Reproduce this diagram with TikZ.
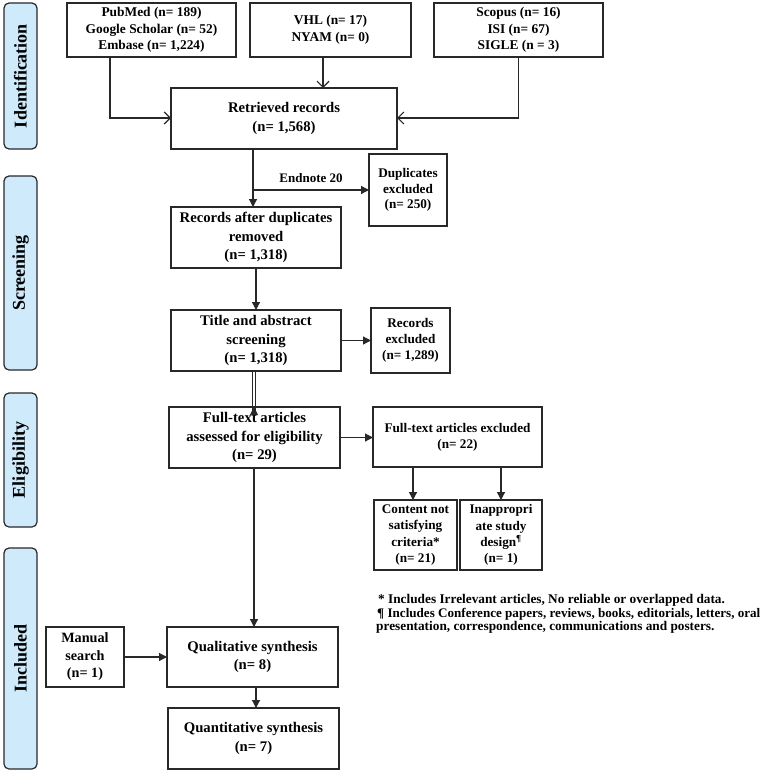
\documentclass[tikz,border=0pt]{standalone}
\usepackage{fontspec}
\setmainfont{Liberation Serif}
\usetikzlibrary{arrows.meta}
\definecolor{pillblue}{RGB}{206,234,251}
\definecolor{edge}{RGB}{40,40,40}
\tikzset{
  box/.style={draw=edge, line width=1.4pt, fill=white, inner sep=0pt, outer sep=0pt, align=center, font=\bfseries\fontsize{14.7}{18.3}\selectfont},
  srcbox/.style={box, font=\bfseries\fontsize{13.4}{16.7}\selectfont},
  sidebox/.style={box, font=\bfseries\fontsize{13.2}{15.8}\selectfont},
  pill/.style={draw=edge, line width=1.2pt, fill=pillblue, rounded corners=5pt, inner sep=0pt, outer sep=0pt, minimum width=33pt},
  pilltext/.style={font=\bfseries\fontsize{18}{20}\selectfont, rotate=90},
  openarr/.style={line width=1.2pt, draw=edge, -{Straight Barb[length=6pt,width=12pt,line width=1.2pt]}},
  fillarr/.style={line width=1.2pt, draw=edge, -{Triangle[length=8pt,width=8pt]}},
  note/.style={font=\bfseries\fontsize{13.3}{14}\selectfont, anchor=west, inner sep=0pt}
}
\begin{document}
\begin{tikzpicture}[x=1pt,y=-1pt]
\useasboundingbox (0,0) rectangle (767,773);
% phase labels
\node[pill, minimum height=146pt] (pid) at (20.5,76) {};
\node[pilltext] (tid) at (pid.center) {Identification};
\node[pill, minimum height=194pt] (psc) at (20.5,273) {};
\node[pilltext] (tsc) at (psc.center) {Screening};
\node[pill, minimum height=134pt] (pel) at (20.5,460) {};
\node[pilltext] (tel) at (pel.center) {Eligibility};
\node[pill, minimum height=221pt] (pin) at (20.5,658.5) {};
\node[pilltext] (tin) at (pin.center) {Included};
% boxes
\node[srcbox, minimum width=169pt, minimum height=54pt] (pub) at (151.5,30) {PubMed (n= 189)\\Google Scholar (n= 52)\\Embase (n= 1,224)};
\node[srcbox, minimum width=161pt, minimum height=54pt] (vhl) at (330.5,30) {VHL (n= 17)\\NYAM (n= 0)};
\node[srcbox, minimum width=169pt, minimum height=54pt] (sco) at (518.5,30) {Scopus (n= 16)\\ISI (n= 67)\\SIGLE (n = 3)};
\node[box, minimum width=226pt, minimum height=61pt] (ret) at (284,118.5) {Retrieved records\\(n= 1,568)};
\node[sidebox, minimum width=78pt, minimum height=72pt] (dup) at (408,190) {Duplicates\\excluded\\(n= 250)};
\node[box, minimum width=170pt, minimum height=61pt] (rad) at (256,237.5) {Records after duplicates\\removed\\(n= 1,318)};
\node[box, minimum width=170pt, minimum height=61pt] (tas) at (256,340.5) {Title and abstract\\screening\\(n= 1,318)};
\node[sidebox, minimum width=79pt, minimum height=65pt] (rex) at (410.5,340.5) {Records\\excluded\\(n= 1,289)};
\node[box, minimum width=171pt, minimum height=61pt] (fta) at (254.5,437.5) {Full-text articles\\assessed for eligibility\\(n= 29)};
\node[sidebox, minimum width=169pt, minimum height=60pt] (fte) at (457.5,437) {Full-text articles excluded\\(n= 22)};
\node[sidebox, minimum width=83pt, minimum height=70pt, font=\bfseries\fontsize{13.2}{16.2}\selectfont] (cns) at (415.5,535) {Content not\\satisfying\\criteria*\\(n= 21)};
\node[sidebox, minimum width=82pt, minimum height=70pt, font=\bfseries\fontsize{13.2}{16.2}\selectfont] (isd) at (501,535) {Inappropri\\ate study\\design\textsuperscript{¶}\\(n= 1)};
\node[box, minimum width=171pt, minimum height=60pt] (qual) at (252.5,657) {Qualitative synthesis\\(n= 8)};
\node[box, minimum width=78pt, minimum height=60pt, font=\bfseries\fontsize{14.2}{17.5}\selectfont] (man) at (85,657) {Manual\\search\\(n= 1)};
\node[box, minimum width=171pt, minimum height=61pt] (quan) at (253.5,738.5) {Quantitative synthesis\\(n= 7)};
% footnotes
\node[note] (n1) at (378,600) {* Includes Irrelevant articles, No reliable or overlapped data.};
\node[note, font=\bfseries\fontsize{13.1}{14}\selectfont] (n2) at (377,614) {¶ Includes Conference papers, reviews, books, editorials, letters, oral};
\node[note] (n3) at (376,627.5) {presentation, correspondence, communications and posters.};
% connectors
\coordinate (pubk) at (110,118);
\draw[openarr] (pub.south -| pubk) -- (pubk) -- (ret.west |- pubk);
\coordinate (scok) at (518.5,118);
\draw[openarr] (sco.south) -- (scok) -- (ret.east |- scok);
\coordinate (vhlx) at (323,0);
\draw[openarr] (vhl.south -| vhlx) -- (ret.north -| vhlx);
\coordinate (retx) at (253,0);
\draw[fillarr] (ret.south -| retx) -- (rad.north -| retx);
\coordinate (brk) at (253,190);
\draw[fillarr] (brk) -- node[above=3pt, font=\bfseries\fontsize{13}{15}\selectfont] (endn) {Endnote 20} (dup.west |- brk);
\draw[fillarr] (rad.south) -- (tas.north);
\draw[fillarr] (tas.east) -- (rex.west |- tas.east);
\coordinate (dl1) at (252.5,0);
\coordinate (dl2) at (255.5,0);
\draw[line width=1pt, draw=edge] (tas.south -| dl1) -- ([yshift=-5pt]fta.north -| dl1);
\draw[line width=1pt, draw=edge] (tas.south -| dl2) -- ([yshift=-5pt]fta.north -| dl2);
\draw[line width=1pt, draw=edge, -{Triangle[length=8pt,width=8pt]}] ([yshift=-7pt]fta.north -| 254,0) -- (fta.north -| 254,0);
\draw[fillarr] (fta.east) -- (fte.west |- fta.east);
\draw[fillarr] (fte.south -| cns.north) ++(-2.5,0) -- ([xshift=-2.5pt]cns.north);
\draw[fillarr] (fte.south -| isd.north) -- (isd.north);
\draw[fillarr] (fta.south -| 254,0) -- (qual.north -| 254,0);
\draw[fillarr] (man.east) -- (qual.west);
\draw[fillarr] (qual.south -| 256,0) -- (quan.north -| 256,0);
\end{tikzpicture}
\end{document}
